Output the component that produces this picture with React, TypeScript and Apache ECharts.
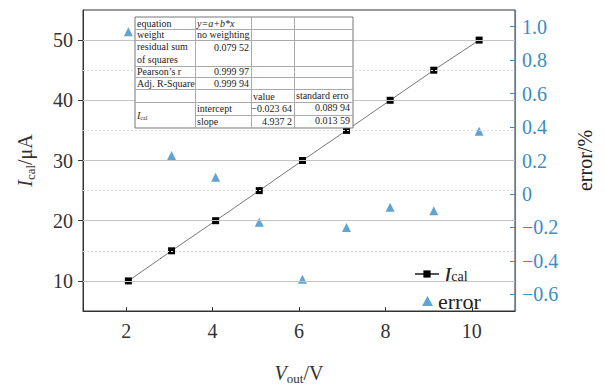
import React, { useEffect, useRef } from "react";
import * as echarts from "echarts";

const vOut = [2.05, 3.05, 4.07, 5.08, 6.08, 7.1, 8.11, 9.12, 10.17];
const iCal = [10, 15, 20, 25, 30, 35, 40, 45, 50];
const errorPct = [0.97, 0.23, 0.1, -0.17, -0.51, -0.2, -0.08, -0.1, 0.375];
const xTicks = [2, 4, 6, 8, 10];
const leftTicks = [10, 20, 30, 40, 50];
const leftMinorGrid = [15, 25, 35, 45];
const rightTicks = [-0.6, -0.4, -0.2, 0, 0.2, 0.4, 0.6, 0.8, 1.0];

const fitParams = [
  ["equation", "y=a+b*x"],
  ["weight", "no weighting"],
  ["residual sum\nof squares", "0.079 52"],
  ["Pearson’s r", "0.999 97"],
  ["Adj. R-Square", "0.999 94"],
];
const coefHeader = ["value", "standard erro"];
const coefRows = [
  ["intercept", "−0.023 64", "0.089 94"],
  ["slope", "4.937 2", "0.013 59"],
];

const SERIF = "'Liberation Serif', 'Times New Roman', serif";
const BLUE = "#3a8dc5";
const DARK = "#333";

function buildTable() {
  const L = 135, R = 353, T = 17;
  const cols = [L, 195, 251, 294, R];
  const rowsY = [T, 29, 40, 66, 77, 89, 102, 115, 128];
  const font = `10px ${SERIF}`;
  const els: any[] = [];
  els.push({
    type: "rect", z: 100,
    shape: { x: L, y: T, width: R - L, height: rowsY[8] - T },
    style: { fill: "#fff", stroke: "#777", lineWidth: 1 },
  });
  for (let i = 1; i < rowsY.length - 1; i++) {
    const x1 = i === 7 ? cols[1] : L;
    els.push({
      type: "line", z: 101,
      shape: { x1, y1: rowsY[i] + 0.5, x2: R, y2: rowsY[i] + 0.5 },
      style: { stroke: "#aaa", lineWidth: 1 },
    });
  }
  for (let c = 1; c < cols.length - 1; c++) {
    els.push({
      type: "line", z: 101,
      shape: { x1: cols[c] + 0.5, y1: T, x2: cols[c] + 0.5, y2: rowsY[8] },
      style: { stroke: "#aaa", lineWidth: 1 },
    });
  }
  const txt = (text: string, x: number, y: number, align: string, extra: any = {}) => ({
    type: "text", z: 102,
    style: {
      text, x, y, font, fill: "#222",
      textAlign: align, align, textVerticalAlign: "middle", verticalAlign: "middle",
      lineHeight: 12.5,
      ...extra,
    },
  });
  fitParams.forEach((row, i) => {
    const yTop = rowsY[i], yBot = rowsY[i + 1];
    const yc = (yTop + yBot) / 2;
    if (row[0].includes("\n")) {
      els.push(txt(row[0], cols[0] + 2, yc, "left"));
      els.push(txt(row[1], cols[2] - 2, yTop + 7, "right"));
    } else {
      els.push(txt(row[0], cols[0] + 2, yc, "left"));
      if (i < 2) {
        els.push(txt(row[1], cols[1] + 2, yc, "left", i === 0 ? { font: `italic 10px ${SERIF}` } : {}));
      } else {
        els.push(txt(row[1], cols[2] - 2, yc, "right"));
      }
    }
  });
  els.push(txt(coefHeader[0], cols[2] + 2, 96.5, "left"));
  els.push(txt(coefHeader[1], cols[3] + 2, 95, "left"));
  coefRows.forEach((row, i) => {
    const yc = (rowsY[6 + i] + rowsY[7 + i]) / 2;
    els.push(txt(row[0], cols[1] + 2, yc, "left"));
    els.push(txt(row[1], cols[3] - 2, yc - 0.5, "right"));
    els.push(txt(row[2], cols[4] - 3, yc - 1, "right"));
  });
  els.push({
    type: "text", z: 102,
    style: {
      text: "{i|I}{s|cal}", x: cols[0] + 2, y: 115,
      align: "left", verticalAlign: "middle", textAlign: "left", textVerticalAlign: "middle",
      fill: "#222",
      rich: {
        i: { font: `italic 10px ${SERIF}`, lineHeight: 12, fill: "#222" },
        s: { font: `6px ${SERIF}`, lineHeight: 6, verticalAlign: "bottom", fill: "#222" },
      },
    },
  });
  return els;
}

export default function App() {
  const ref = useRef<HTMLDivElement>(null);
  useEffect(() => {
    document.body.style.margin = "0";
    const chart = echarts.init(ref.current!, undefined, { renderer: "svg" });
    const nameRich = (color: string) => ({
      i: { fontFamily: SERIF, fontStyle: "italic", fontSize: 20, lineHeight: 24, color },
      s: { fontFamily: SERIF, fontSize: 13, lineHeight: 13, verticalAlign: "bottom", color },
      n: { fontFamily: SERIF, fontSize: 20, lineHeight: 24, color },
    });
    const tickRich = (color: string) => ({
      a: { fontFamily: SERIF, fontSize: 20, color },
    });
    const gridData = [
      ...leftTicks.map((v) => ({ yAxis: v, lineStyle: { color: "#c4c4c4", type: "solid", width: 1 } })),
      ...leftMinorGrid.map((v) => ({ yAxis: v, lineStyle: { color: "#dcdcdc", type: [2, 2], width: 1 } })),
    ];
    const legendText = {
      fontFamily: SERIF,
      rich: {
        i: { fontFamily: SERIF, fontStyle: "italic", fontSize: 22, lineHeight: 18, color: "#222" },
        s: { fontFamily: SERIF, fontSize: 14, lineHeight: 10, verticalAlign: "bottom", color: "#222" },
        n: { fontFamily: SERIF, fontSize: 22, lineHeight: 16, color: "#222" },
      },
    };
    chart.setOption({
      animation: false,
      textStyle: { fontFamily: SERIF },
      grid: { left: 83, right: 90, top: 10, bottom: 63, show: true, borderColor: DARK, borderWidth: 1 },
      xAxis: {
        type: "value", min: 1, max: 11,
        axisLine: { show: true, onZero: false, lineStyle: { color: DARK, width: 1 } },
        axisTick: { show: true, inside: true, length: 4, customValues: xTicks, lineStyle: { color: DARK } },
        axisLabel: {
          customValues: xTicks, margin: 10, fontFamily: SERIF, fontSize: 20, color: DARK,
          formatter: (v: number) => `{a|${v}}`, rich: tickRich(DARK),
        },
        splitLine: { show: false },
        name: "{i|V}{s|out}{n|/V}",
        nameLocation: "middle", nameGap: 50,
        nameTextStyle: { rich: nameRich(DARK) },
      },
      yAxis: [
        {
          type: "value", min: 5, max: 55, position: "left",
          axisLine: { show: true, onZero: false, lineStyle: { color: DARK, width: 1 } },
          axisTick: { show: true, inside: false, length: 5, customValues: leftTicks, lineStyle: { color: DARK } },
          axisLabel: {
            customValues: leftTicks, margin: 10, fontFamily: SERIF, fontSize: 20, color: DARK,
            formatter: (v: number) => `{a|${v}}`, rich: tickRich(DARK),
          },
          splitLine: { show: false },
          name: "{i|I}{s|cal}{n|/μA}",
          nameLocation: "middle", nameRotate: 90, nameGap: 46,
          nameTextStyle: { rich: nameRich(DARK) },
        },
        {
          type: "value", min: -0.7, max: 1.1, position: "right",
          axisLine: { show: true, onZero: false, lineStyle: { color: BLUE, width: 1.2 } },
          axisTick: { show: true, inside: true, length: 5, customValues: rightTicks, lineStyle: { color: BLUE } },
          axisLabel: {
            customValues: rightTicks, margin: 7, fontFamily: SERIF, fontSize: 20, color: BLUE,
            formatter: (v: number) =>
              `{a|${Math.abs(v) < 1e-9 ? "0" : (v < 0 ? "−" : "") + Math.abs(v).toFixed(1)}}`,
            rich: tickRich(BLUE),
          },
          splitLine: { show: false },
          name: "error/%",
          nameLocation: "middle", nameRotate: 90, nameGap: 60,
          nameTextStyle: { fontFamily: SERIF, fontSize: 20, color: "#222" },
        },
      ],
      legend: [
        {
          orient: "vertical", left: 409, top: 258,
          itemWidth: 24, itemHeight: 9,
          data: ["Ical"],
          formatter: () => "{i|I}{s|cal}",
          textStyle: legendText,
        },
        {
          orient: "vertical", left: 417, top: 285,
          itemWidth: 11, itemHeight: 10, itemGap: 0,
          data: ["error"],
          formatter: () => "{n|error}",
          textStyle: legendText,
        },
      ],
      graphic: buildTable(),
      series: [
        {
          name: "Ical", type: "line", yAxisIndex: 0,
          data: vOut.map((x, i) => [x, iCal[i]]),
          symbol: "rect", symbolSize: 7,
          itemStyle: { color: "#000" },
          lineStyle: { color: "#555", width: 0.8 },
          z: 3,
          markLine: {
            silent: true, symbol: "none", label: { show: false },
            data: gridData,
          },
        },
        {
          name: "error", type: "scatter", yAxisIndex: 1,
          data: vOut.map((x, i) => [x, errorPct[i]]),
          symbol: "triangle", symbolSize: 9,
          itemStyle: { color: BLUE },
          z: 3,
        },
      ],
    });
    return () => chart.dispose();
  }, []);
  return <div ref={ref} style={{ width: 605, height: 390 }} />;
}
